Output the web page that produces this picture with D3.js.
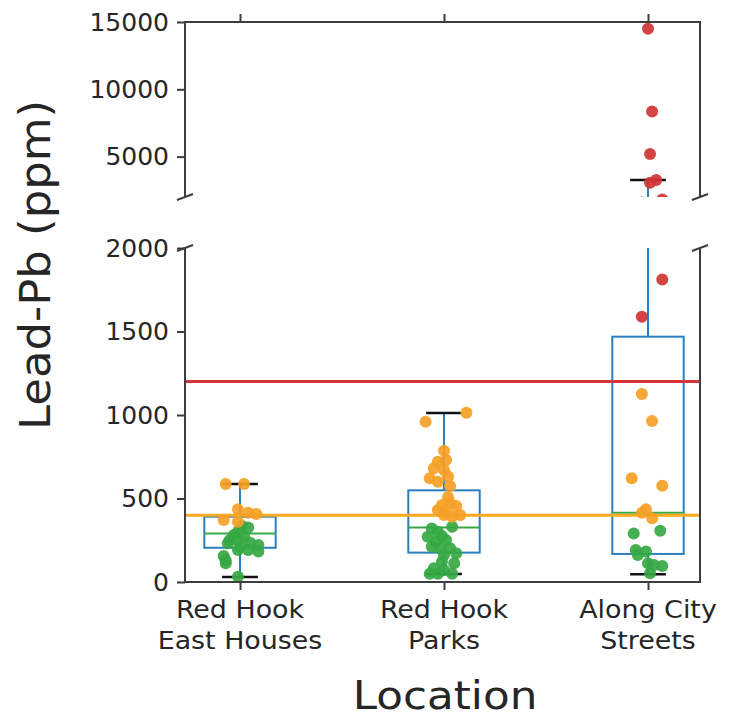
<!DOCTYPE html>
<html>
<head>
<meta charset="utf-8">
<title>Lead-Pb by location</title>
<script src="https://d3js.org/d3.v7.min.js"></script>
<style>
  body { margin: 0; background: #fff; }
  text { font-family: "DejaVu Sans", sans-serif; fill: #262626; }
</style>
</head>
<body>
<script>
// locations (x categories), two-line labels
var locations = [["Red Hook", "East Houses"], ["Red Hook", "Parks"], ["Along City", "Streets"]];

// box stats (ppm)
var q1 = [205, 176, 168];
var medians = [291, 326, 415];
var q3 = [391, 549, 1469];
var whiskLo = [30, 48, 46];
var whiskHi = [587, 1012, 3266];

// guideline values: 1200 (red) and 400 (orange)
var limits = [1200, 400];

// y tick labels of both halves of the broken axis
var topTicks = [5000, 10000, 15000];
var bottomTicks = [0, 500, 1000, 1500, 2000];

// samples per location, split by colour class, with strip jitter (category units)
var greenPb = [
  [335, 327, 301, 281, 271, 251, 251, 235, 232, 222, 211, 192, 192, 182, 156, 130, 112, 32],
  [331, 321, 301, 275, 271, 251, 241, 211, 202, 202, 172, 162, 122, 112, 82, 72, 50, 50, 50],
  [307, 291, 192, 182, 162, 112, 102, 96, 52]
];
var greenJit = [
  [0.01, 0.04, -0.01, -0.03, 0.02, -0.05, -0.01, 0.05, -0.06, 0.09, 0, 0.04, -0.01, 0.09, -0.08, -0.07, -0.07, -0.01],
  [0.04, -0.06, -0.03, -0.01, -0.08, 0.01, -0.04, -0.06, 0.03, -0.02, 0.06, 0, -0.01, 0.05, -0.05, 0, -0.03, 0.04, -0.07],
  [0.06, -0.07, -0.06, -0.01, -0.05, 0, 0.03, 0.07, 0.01]
];
var orangePb = [
  [587, 587, 435, 415, 407, 371, 361],
  [1014, 960, 786, 731, 720, 681, 671, 631, 621, 601, 575, 507, 471, 461, 455, 431, 421, 401, 401, 391],
  [1126, 964, 621, 577, 435, 415, 381]
];
var orangeJit = [
  [-0.07, 0.02, -0.01, 0.04, 0.08, -0.08, -0.01],
  [0.11, -0.09, 0, 0.01, -0.03, -0.05, 0, 0.02, -0.07, -0.03, 0.03, 0.02, 0.03, -0.01, 0.06, -0.03, 0.01, 0.08, 0, 0.04],
  [-0.03, 0.02, -0.08, 0.07, -0.01, -0.03, 0.02]
];
var redPb = [[], [], [14500, 8350, 5200, 3266, 3065, 1812, 1589]];
var redJit = [[], [], [0, 0.02, 0.01, 0.04, 0.01, 0.07, -0.03]];

var width = 731, height = 719;
var svg = d3.select("body").append("svg")
  .attr("width", width).attr("height", height);

var left = 185, right = 700;
var x = d3.scaleLinear().domain([0.7304, 3.2549]).range([left, right]);
var yTop = d3.scaleLinear().domain([2000, 15000]).range([197, 22]);
var yBot = d3.scaleLinear().domain([0, 2000]).range([582, 248]);

var spine = "#3d3d3d";
var boxW = 0.35, capW = 0.175;

// flatten samples into one list of points
var groups = [
  {vals: greenPb, jit: greenJit, color: "#35a843"},
  {vals: orangePb, jit: orangeJit, color: "#f5a025"},
  {vals: redPb, jit: redJit, color: "#d03434"}
];
var points = [];
groups.forEach(function(g) {
  g.vals.forEach(function(arr, i) {
    arr.forEach(function(v, j) {
      points.push({pos: i + 1 + g.jit[i][j], v: v, color: g.color});
    });
  });
});

function drawPanel(name, y) {
  var r = y.range();
  svg.append("clipPath").attr("id", "clip-" + name)
    .append("rect").attr("x", left).attr("y", r[1])
    .attr("width", right - left).attr("height", r[0] - r[1]);

  var g = svg.append("g").attr("clip-path", "url(#clip-" + name + ")");

  locations.forEach(function(d, i) {
    var c = i + 1;
    // whiskers
    g.append("line").attr("x1", x(c)).attr("x2", x(c))
      .attr("y1", y(q3[i])).attr("y2", y(whiskHi[i]))
      .attr("stroke", "#2a7fc0").attr("stroke-width", 2);
    g.append("line").attr("x1", x(c)).attr("x2", x(c))
      .attr("y1", y(q1[i])).attr("y2", y(whiskLo[i]))
      .attr("stroke", "#2a7fc0").attr("stroke-width", 2);
    // box
    g.append("rect").attr("x", x(c - boxW / 2)).attr("y", y(q3[i]))
      .attr("width", x(c + boxW / 2) - x(c - boxW / 2))
      .attr("height", y(q1[i]) - y(q3[i]))
      .attr("fill", "none").attr("stroke", "#2a7fc0").attr("stroke-width", 2);
    // caps
    [whiskLo[i], whiskHi[i]].forEach(function(w) {
      g.append("line").attr("x1", x(c - capW / 2)).attr("x2", x(c + capW / 2))
        .attr("y1", y(w)).attr("y2", y(w))
        .attr("stroke", "#111").attr("stroke-width", 2.5);
    });
    // median
    g.append("line").attr("x1", x(c - boxW / 2)).attr("x2", x(c + boxW / 2))
      .attr("y1", y(medians[i])).attr("y2", y(medians[i]))
      .attr("stroke", "#3aa846").attr("stroke-width", 2);
  });

  // guideline values
  g.selectAll(".limit").data(limits).enter().append("line")
    .attr("x1", left).attr("x2", right)
    .attr("y1", function(d) { return y(d); }).attr("y2", function(d) { return y(d); })
    .attr("stroke", function(d, i) { return i == 0 ? "#d8323a" : "#fbaa1f"; })
    .attr("stroke-width", 3);

  g.selectAll("circle").data(points).enter().append("circle")
    .attr("cx", function(d) { return x(d.pos); })
    .attr("cy", function(d) { return y(d.v); })
    .attr("r", 6)
    .attr("fill", function(d) { return d.color; })
    .attr("fill-opacity", 0.92);

  // y axis
  var ax = svg.append("g").attr("transform", "translate(" + left + ",0)")
    .call(d3.axisLeft(y).tickValues(name == "top" ? topTicks : bottomTicks)
      .tickFormat(d3.format("d")).tickSize(8).tickPadding(8));
  ax.select(".domain").remove();
  ax.selectAll(".tick line").attr("stroke", spine).attr("stroke-width", 2);
  ax.selectAll(".tick text").style("font-size", "25px").attr("fill", "#262626");

  // spines (left, right)
  [left, right].forEach(function(sx) {
    svg.append("line").attr("x1", sx).attr("x2", sx).attr("y1", r[1]).attr("y2", r[0])
      .attr("stroke", spine).attr("stroke-width", 2);
  });
}

drawPanel("top", yTop);
drawPanel("bottom", yBot);

// top spine with ticks pointing up
svg.append("line").attr("x1", left - 1).attr("x2", right + 1)
  .attr("y1", yTop.range()[1]).attr("y2", yTop.range()[1])
  .attr("stroke", spine).attr("stroke-width", 2);
var topAx = svg.append("g").attr("transform", "translate(0," + yTop.range()[1] + ")")
  .call(d3.axisTop(x).tickValues([1, 2, 3]).tickSize(8).tickFormat(""));
topAx.select(".domain").remove();
topAx.selectAll(".tick line").attr("stroke", spine).attr("stroke-width", 2);

// bottom spine with ticks and category labels
svg.append("line").attr("x1", left - 1).attr("x2", right + 1)
  .attr("y1", yBot.range()[0]).attr("y2", yBot.range()[0])
  .attr("stroke", spine).attr("stroke-width", 2);
var botAx = svg.append("g").attr("transform", "translate(0," + yBot.range()[0] + ")")
  .call(d3.axisBottom(x).tickValues([1, 2, 3]).tickSize(8).tickFormat(""));
botAx.select(".domain").remove();
botAx.selectAll(".tick line").attr("stroke", spine).attr("stroke-width", 2);

var xl = svg.selectAll(".xlab").data(locations).enter().append("text")
  .attr("class", "xlab")
  .attr("transform", function(d, i) { return "translate(" + x(i + 1) + ",618) scale(1.12,1)"; })
  .attr("text-anchor", "middle").style("font-size", "24px");
xl.selectAll("tspan").data(function(d) { return d; }).enter().append("tspan")
  .attr("x", 0).attr("dy", function(d, i) { return i == 0 ? 0 : 31; })
  .text(function(d) { return d; });

// break marks
var breaks = [[left, 197], [right, 197], [left, 248], [right, 248]];
svg.selectAll(".brk").data(breaks).enter().append("line")
  .attr("x1", function(d) { return d[0] - 8; }).attr("x2", function(d) { return d[0] + 8; })
  .attr("y1", function(d) { return d[1] + 3; }).attr("y2", function(d) { return d[1] - 3; })
  .attr("stroke", spine).attr("stroke-width", 2);

// axis titles
svg.append("text").attr("transform", "translate(445,709) scale(1.12,1)")
  .attr("text-anchor", "middle").style("font-size", "39px").text("Location");
svg.append("text").attr("transform", "translate(50,265) rotate(-90) scale(1.07,1)")
  .attr("text-anchor", "middle").style("font-size", "42px").text("Lead-Pb (ppm)");
</script>
</body>
</html>
